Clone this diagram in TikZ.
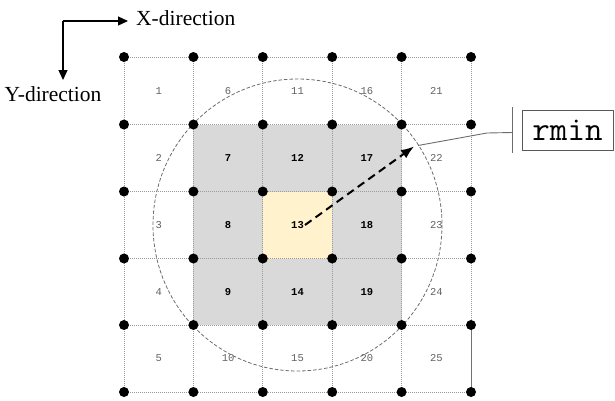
\documentclass[tikz,border=0pt]{standalone}
\usepackage{fontspec}
\setmainfont{Liberation Serif}
\newfontfamily\cellmono{Liberation Mono}
\usetikzlibrary{arrows.meta,calc}
\definecolor{cellgray}{HTML}{D9D9D9}
\definecolor{cellyellow}{HTML}{FFF2CC}
\begin{document}
\begin{tikzpicture}[x=1pt,y=-1pt,
  gridline/.style={draw=gray!80, line width=0.9pt, dash pattern=on 1pt off 1pt},
  solidedge/.style={draw=gray!90!black, line width=1pt},
  gridpt/.style={circle, fill=black, inner sep=0pt, minimum size=10pt},
  outnum/.style={font=\cellmono\fontsize{10.5}{12}\selectfont, text=black!62, inner sep=1pt},
  innum/.style={font=\cellmono\bfseries\fontsize{10.5}{12}\selectfont, text=black, inner sep=1pt},
  circ/.style={draw=gray!85!black, line width=0.8pt, dash pattern=on 3.5pt off 2pt},
  radarrow/.style={draw=black, line width=2pt, dash pattern=on 8pt off 5pt, -{Latex[length=13pt,width=10pt]}},
  leader/.style={draw=gray!85!black, line width=0.9pt},
  dirarrow/.style={draw=black, line width=1.3pt, -{Triangle[length=10pt,width=9pt]}},
  dirlabel/.style={font=\fontsize{21.5}{24}\selectfont, inner sep=0pt},
  rminbox/.style={draw=gray!70!black, line width=0.9pt, font=\ttfamily\fontsize{34}{36}\selectfont, minimum width=91pt, minimum height=40pt, inner sep=0pt}
]
\useasboundingbox (0,0) rectangle (615,400);

% grid coordinates
\foreach \x [count=\i from 0] in {124,193.4,262.8,332.2,401.6,471}{
  \foreach \y [count=\j from 0] in {57,124.5,191.5,258.5,325,392}{
    \coordinate (g-\i-\j) at (\x,\y);
  }
}

% fills
\fill[cellgray] (g-1-1) rectangle (g-4-4);
\fill[cellyellow] (g-2-2) rectangle (g-3-3);

% grid lines
\foreach \i in {0,...,5}{
  \draw[gridline] (g-\i-0) -- (g-\i-5);
  \draw[gridline] (g-0-\i) -- (g-5-\i);
}
\draw[solidedge] (g-5-4) -- (g-5-5);

% cell numbers
\foreach \c in {0,...,4}{
  \foreach \r in {0,...,4}{
    \pgfmathtruncatemacro{\num}{5*\c+\r+1}
    \pgfmathtruncatemacro{\cn}{\c+1}
    \pgfmathtruncatemacro{\rn}{\r+1}
    \pgfmathtruncatemacro{\inner}{(\c>0)*(\c<4)*(\r>0)*(\r<4)}
    \ifnum\inner=1
      \node[innum] (n\num) at ($(g-\c-\r)!0.5!(g-\cn-\rn)$) {\num};
    \else
      \node[outnum] (n\num) at ($(g-\c-\r)!0.5!(g-\cn-\rn)$) {\num};
    \fi
  }
}

% circle of radius rmin
\draw[circ] ($(g-2-2)!0.5!(g-3-3)$) ellipse [x radius=144.5, y radius=146];

% radius arrow
\coordinate (tip) at (414,146.5);
\draw[radarrow] (n13.east) -- (tip);

% rmin label
\node[rminbox] (rmin) at (567.5,130) {rmin};
\coordinate (bartop) at (512,107);
\coordinate (barbot) at (512,153);
\coordinate (barmid) at (512,132.5);
\coordinate (lstart) at (418,145.5);
\coordinate (lbend) at (487,133);
\draw[leader] (bartop) -- (barbot);
\draw[leader] (lstart) -- (lbend) -- (barmid);

% grid points
\foreach \i in {0,...,5}{
  \foreach \j in {0,...,5}{
    \node[gridpt] (p-\i-\j) at (g-\i-\j) {};
  }
}

% direction indicator
\coordinate (corner) at (63,21);
\coordinate (xtip) at (128,21);
\coordinate (ytip) at (63,80);
\draw[dirarrow] (corner) -- (xtip);
\draw[dirarrow] (corner) -- (ytip);
\node[dirlabel, anchor=west] (xdir) at (136,18.5) {X-direction};
\node[dirlabel, anchor=west] (ydir) at (4.5,94) {Y-direction};
\end{tikzpicture}
\end{document}
